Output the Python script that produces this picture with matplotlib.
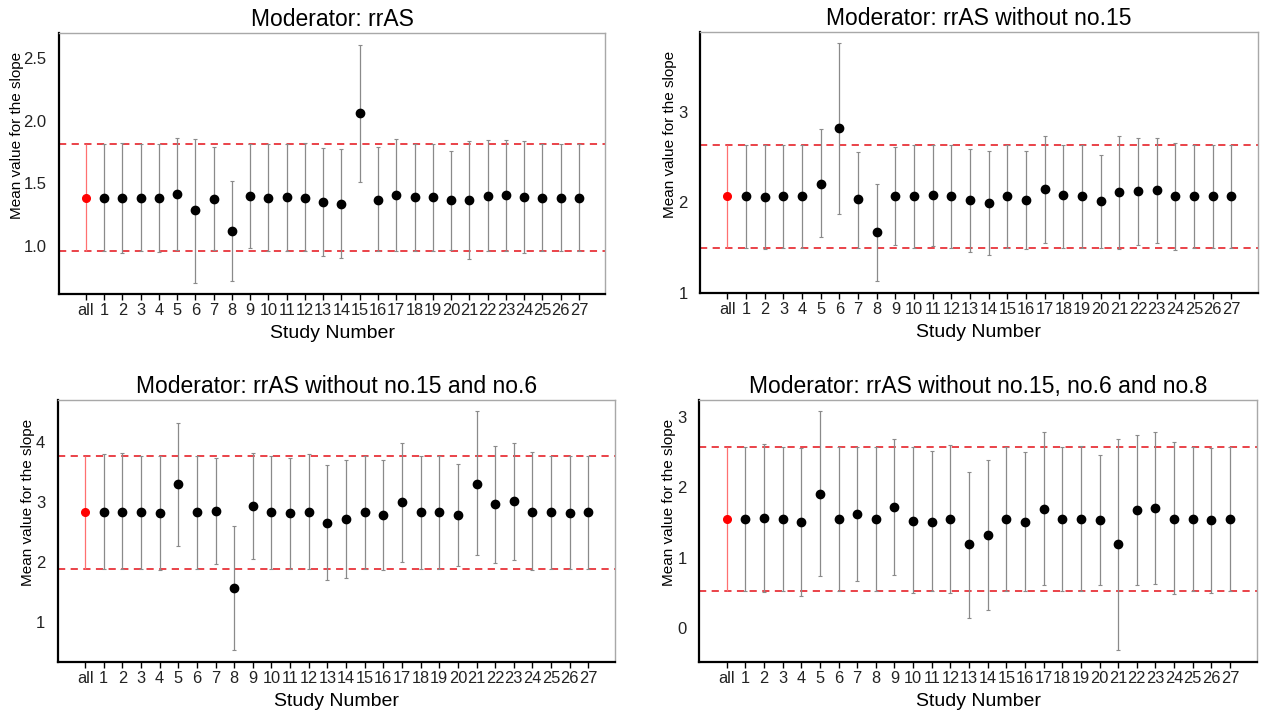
import matplotlib
matplotlib.use("Agg")
import matplotlib.pyplot as plt

plt.rcParams['font.family'] = ['Liberation Sans', 'DejaVu Sans']

categories = ["all"] + [str(i) for i in range(1, 28)]

titles = ["Moderator: rrAS",
          "Moderator: rrAS without no.15",
          "Moderator: rrAS without no.15 and no.6",
          "Moderator: rrAS without no.15, no.6 and no.8"]

mean1 = [1.386, 1.386, 1.386, 1.386, 1.386, 1.416, 1.285, 1.378, 1.120, 1.402, 1.386, 1.392, 1.386, 1.352,
         1.336, 2.061, 1.368, 1.405, 1.389, 1.389, 1.365, 1.368, 1.402, 1.408, 1.392, 1.386, 1.386, 1.386]
upper1 = [1.818, 1.818, 1.826, 1.818, 1.818, 1.866, 1.858, 1.789, 1.517, 1.818, 1.818, 1.818, 1.826, 1.783,
          1.773, 2.609, 1.789, 1.855, 1.818, 1.818, 1.757, 1.837, 1.847, 1.847, 1.837, 1.818, 1.818, 1.818]
lower1 = [0.960, 0.960, 0.947, 0.960, 0.952, 0.968, 0.704, 0.968, 0.723, 0.986, 0.960, 0.960, 0.960, 0.923,
          0.907, 1.509, 0.960, 0.960, 0.960, 0.960, 0.968, 0.899, 0.960, 0.960, 0.942, 0.960, 0.960, 0.960]

mean2 = [2.069, 2.069, 2.062, 2.069, 2.069, 2.209, 2.815, 2.036, 1.673, 2.073, 2.069, 2.084, 2.069, 2.025,
         1.996, 2.066, 2.025, 2.143, 2.080, 2.069, 2.014, 2.113, 2.124, 2.139, 2.069, 2.069, 2.073, 2.069]
upper2 = [2.628, 2.628, 2.628, 2.628, 2.628, 2.804, 3.758, 2.557, 2.209, 2.606, 2.628, 2.628, 2.628, 2.587,
          2.562, 2.628, 2.572, 2.730, 2.634, 2.628, 2.528, 2.734, 2.705, 2.712, 2.660, 2.628, 2.628, 2.628]
lower2 = [1.504, 1.497, 1.493, 1.504, 1.497, 1.615, 1.874, 1.504, 1.130, 1.537, 1.504, 1.522, 1.497, 1.456,
          1.420, 1.504, 1.493, 1.552, 1.504, 1.504, 1.497, 1.486, 1.537, 1.555, 1.482, 1.504, 1.504, 1.504]

mean3 = [2.828, 2.833, 2.833, 2.828, 2.817, 3.289, 2.828, 2.850, 1.567, 2.933, 2.828, 2.817, 2.828, 2.650,
         2.711, 2.828, 2.778, 2.989, 2.833, 2.828, 2.778, 3.300, 2.956, 3.006, 2.833, 2.828, 2.811, 2.828]
upper3 = [3.761, 3.789, 3.806, 3.761, 3.761, 4.317, 3.761, 3.722, 2.589, 3.817, 3.761, 3.733, 3.789, 3.606,
          3.689, 3.761, 3.689, 3.983, 3.767, 3.767, 3.633, 4.506, 3.933, 3.983, 3.822, 3.767, 3.756, 3.767]
lower3 = [1.878, 1.878, 1.872, 1.878, 1.861, 2.256, 1.878, 1.967, 0.533, 2.039, 1.878, 1.878, 1.878, 1.689,
          1.722, 1.878, 1.861, 1.994, 1.878, 1.878, 1.922, 2.106, 1.983, 2.028, 1.861, 1.878, 1.872, 1.878]

mean4 = [1.545, 1.545, 1.564, 1.545, 1.502, 1.904, 1.545, 1.615, 1.545, 1.719, 1.521, 1.512, 1.545, 1.190,
         1.318, 1.549, 1.507, 1.696, 1.554, 1.554, 1.535, 1.190, 1.672, 1.701, 1.554, 1.554, 1.530, 1.554]
upper4 = [2.565, 2.574, 2.617, 2.574, 2.556, 3.075, 2.565, 2.565, 2.565, 2.683, 2.565, 2.508, 2.603, 2.220,
          2.381, 2.574, 2.503, 2.787, 2.574, 2.588, 2.452, 2.678, 2.740, 2.778, 2.645, 2.574, 2.551, 2.574]
lower4 = [0.524, 0.524, 0.510, 0.524, 0.463, 0.737, 0.524, 0.666, 0.524, 0.756, 0.496, 0.524, 0.505, 0.146,
          0.255, 0.524, 0.524, 0.609, 0.534, 0.524, 0.619, -0.307, 0.609, 0.633, 0.487, 0.524, 0.501, 0.524]

yticks = [[1.0, 1.5, 2.0, 2.5], [1, 2, 3], [1, 2, 3, 4], [0, 1, 2, 3]]
yticklabels = [["1.0", "1.5", "2.0", "2.5"], ["1", "2", "3"], ["1", "2", "3", "4"], ["0", "1", "2", "3"]]
ylims = [(0.616, 2.703), (1.0, 3.874), (0.333, 4.695), (-0.472, 3.236)]

series = [(mean1, lower1, upper1), (mean2, lower2, upper2),
          (mean3, lower3, upper3), (mean4, lower4, upper4)]

# axes rectangles in pixels: left, top, right, bottom
W, H = 1262, 711
rects_px = [(59, 33, 605, 294), (700, 32.3, 1258, 293.3),
            (57.7, 400, 615, 661.7), (699.3, 400, 1256.7, 661.7)]
ylab_x = [-0.0775, -0.054, -0.053, -0.054]

fig = plt.figure(figsize=(W / 100, H / 100), dpi=100)

for k in range(4):
    l, t, r, b = rects_px[k]
    ax = fig.add_axes([l / W, 1 - b / H, (r - l) / W, (b - t) / H])
    mean, lower, upper = series[k]
    x = list(range(len(categories)))
    # black study points with grey CIs
    for i in range(1, len(categories)):
        ax.errorbar(x[i], mean[i], yerr=[[mean[i] - lower[i]], [upper[i] - mean[i]]],
                    fmt='o', color='black', ms=6, ecolor='#8a8a8a', elinewidth=0.9,
                    capsize=1.6, capthick=0.8, zorder=3)
    ax.errorbar(x[0], mean[0], yerr=[[mean[0] - lower[0]], [upper[0] - mean[0]]],
                fmt='o', color='#ff0000', ms=5.5, ecolor='#ff7070', elinewidth=0.9,
                capsize=0, zorder=3)
    ax.axhline(upper[0], color='#e8343a', ls=(0, (4, 3)), lw=1.3, zorder=2)
    ax.axhline(lower[0], color='#e8343a', ls=(0, (4, 3)), lw=1.3, zorder=2)

    ax.set_xlim(-1.47, 28.43)
    ax.set_ylim(*ylims[k])
    ax.set_xticks(x)
    ax.set_xticklabels(categories, fontsize=11.8)
    ax.set_yticks(yticks[k])
    ax.set_yticklabels(yticklabels[k], fontsize=12, color='#222222')
    ax.tick_params(axis='y', length=0, pad=9)
    ax.tick_params(axis='x', length=4.5, width=1.0, pad=2, colors='black')
    for lab in ax.get_xticklabels():
        lab.set_color('#222222')

    ax.spines['left'].set_linewidth(1.6)
    ax.spines['bottom'].set_linewidth(1.6)
    ax.spines['top'].set_color('#a8a8a8')
    ax.spines['right'].set_color('#a8a8a8')
    ax.spines['top'].set_linewidth(1.0)
    ax.spines['right'].set_linewidth(1.0)

    ax.set_title(titles[k], fontsize=16.5, pad=5)
    ax.set_xlabel("Study Number", fontsize=14)
    ax.xaxis.set_label_coords(0.5, -0.152)
    ax.xaxis.label.set_va('center')
    ax.set_ylabel("Mean value for the slope", fontsize=11)
    ax.yaxis.set_label_coords(ylab_x[k], 0.607)
    ax.yaxis.label.set_va('center')

fig.savefig("out.png", dpi=100)
